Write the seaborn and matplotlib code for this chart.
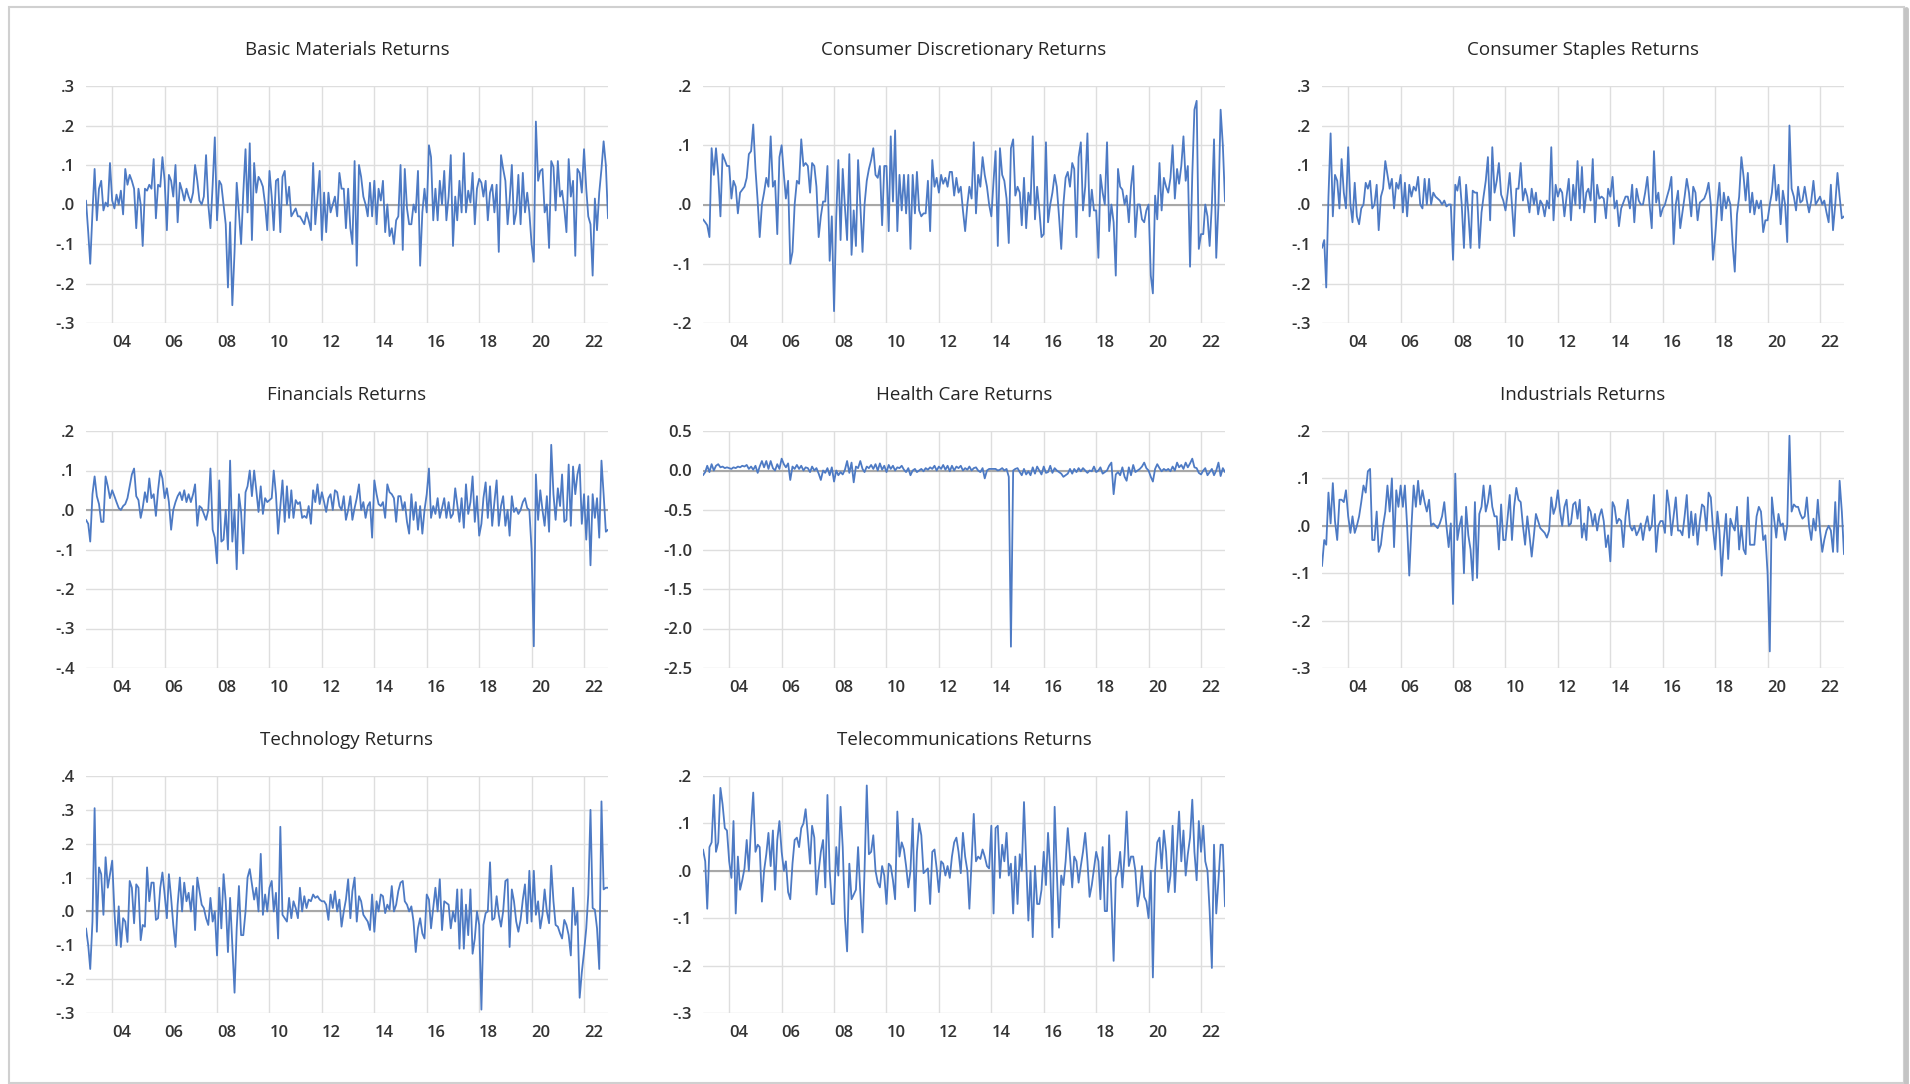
import matplotlib
matplotlib.use("Agg")
import matplotlib.pyplot as plt
import pandas as pd
import seaborn as sns
from matplotlib.lines import Line2D
from matplotlib.patches import Rectangle

sns.set_theme(style="white")
plt.rcParams["font.family"] = ["Open Sans", "DejaVu Sans"]

# monthly observations, Jan 2003 - Dec 2022 (one row per year)
dates = pd.date_range("2003-01-01", periods=240, freq="MS")

basic_materials = [
    0.01, -0.07, -0.15, -0.02, 0.09, -0.04, 0.04, 0.06, -0.015, 0.005, -0.005, 0.105,
    0.01, -0.01, 0.025, 0.0, 0.035, -0.025, 0.09, 0.05, 0.075, 0.06, 0.04, -0.06,
    0.04, 0.0, -0.105, 0.04, 0.035, 0.05, 0.04, 0.115, -0.035, 0.05, 0.045, 0.12,
    0.06, -0.065, 0.075, 0.06, 0.02, 0.1, -0.045, 0.055, 0.035, 0.01, 0.04, 0.02,
    0.005, 0.03, 0.1, 0.06, 0.01, 0.0, 0.02, 0.125, 0.0, -0.06, 0.05, 0.17,
    -0.04, 0.06, 0.05, 0.0, -0.05, -0.21, -0.045, -0.255, -0.12, 0.055, -0.02, -0.1,
    0.03, 0.14, -0.02, 0.155, -0.09, 0.105, 0.03, 0.07, 0.06, 0.045, 0.0, -0.065,
    0.085, 0.02, -0.065, 0.06, 0.065, -0.07, 0.07, 0.085, 0.0, 0.045, -0.03, -0.02,
    -0.01, -0.03, -0.03, -0.04, -0.05, -0.02, -0.04, -0.065, 0.105, -0.05, 0.02, 0.085,
    -0.09, 0.03, -0.07, 0.03, -0.02, 0.0, 0.02, -0.03, 0.08, 0.04, 0.04, -0.06,
    0.04, -0.06, -0.1, 0.11, -0.155, 0.1, 0.07, 0.02, 0.0, -0.03, 0.055, -0.03,
    0.06, -0.05, 0.04, 0.01, 0.06, -0.07, 0.0, -0.08, -0.06, -0.1, -0.04, -0.03,
    0.1, -0.115, 0.09, -0.01, -0.05, -0.05, 0.0, -0.02, 0.085, -0.155, -0.02, 0.04,
    -0.02, 0.15, 0.12, -0.04, 0.04, -0.04, 0.06, 0.0, 0.085, -0.04, 0.02, 0.125,
    -0.105, 0.02, -0.04, 0.06, -0.02, 0.13, -0.02, 0.035, 0.005, 0.08, -0.05, 0.04,
    0.065, 0.055, 0.02, 0.06, -0.04, 0.03, 0.05, -0.02, 0.05, -0.12, 0.125, 0.09,
    0.06, -0.05, 0.01, 0.1, -0.05, -0.02, 0.075, -0.05, 0.08, -0.02, 0.03, -0.02,
    -0.1, -0.145, 0.21, 0.06, 0.085, 0.09, -0.02, 0.0, -0.11, 0.11, 0.095, -0.015,
    0.11, 0.02, 0.035, -0.01, -0.07, 0.115, 0.02, 0.06, -0.13, 0.09, 0.08, 0.03,
    0.14, 0.04, -0.03, -0.05, -0.18, 0.015, -0.065, 0.03, 0.09, 0.16, 0.1, -0.035,
]

consumer_discretionary = [
    -0.025, -0.03, -0.035, -0.055, 0.095, 0.05, 0.095, 0.05, -0.02, 0.085, 0.075, 0.065,
    0.065, 0.01, 0.04, 0.03, -0.015, 0.02, 0.025, 0.03, 0.045, 0.085, 0.09, 0.135,
    0.06, 0.005, -0.055, 0.0, 0.02, 0.045, 0.03, 0.115, 0.03, 0.04, -0.05, 0.08,
    0.1, 0.05, 0.01, 0.04, -0.1, -0.08, 0.0, 0.04, 0.035, 0.11, 0.065, 0.07,
    0.065, 0.02, 0.07, 0.065, 0.03, -0.055, -0.02, 0.005, 0.005, 0.065, -0.095, -0.02,
    -0.18, -0.02, 0.075, -0.06, 0.06, -0.005, -0.06, 0.085, -0.085, -0.01, -0.07, 0.075,
    0.0, -0.08, 0.0, 0.04, 0.06, 0.075, 0.095, 0.05, 0.045, 0.065, -0.035, 0.065,
    0.065, -0.045, 0.115, 0.005, 0.125, -0.045, 0.05, -0.01, 0.05, -0.015, 0.05, -0.075,
    0.05, -0.015, 0.055, -0.01, -0.02, -0.015, -0.015, 0.04, -0.045, 0.075, 0.03, 0.045,
    0.02, 0.05, 0.035, 0.045, 0.03, 0.055, 0.055, 0.015, 0.045, 0.02, 0.03, -0.01,
    -0.045, 0.0, 0.03, 0.01, 0.105, -0.015, 0.05, 0.03, 0.08, 0.05, 0.03, 0.0,
    -0.02, 0.04, 0.09, -0.07, 0.095, 0.05, 0.04, 0.01, -0.065, 0.095, 0.11, 0.015,
    0.03, 0.02, -0.035, 0.045, -0.04, 0.02, 0.0, 0.115, -0.025, 0.03, -0.01, -0.055,
    -0.05, 0.105, -0.03, 0.0, 0.02, 0.05, 0.03, -0.02, -0.075, 0.0, 0.045, 0.055,
    0.03, 0.07, 0.06, -0.055, 0.08, 0.105, -0.01, 0.03, 0.12, -0.02, 0.025, -0.01,
    -0.01, -0.09, 0.05, 0.02, 0.0, 0.105, -0.045, 0.0, -0.03, -0.12, 0.06, 0.03,
    0.025, 0.0, 0.015, -0.03, 0.03, 0.065, -0.055, 0.0, 0.0, -0.025, -0.03, -0.01,
    0.0, -0.12, -0.15, 0.015, -0.025, 0.07, -0.01, 0.045, 0.03, 0.02, 0.045, 0.1,
    0.01, 0.06, 0.035, 0.065, 0.115, 0.04, 0.065, -0.105, 0.05, 0.16, 0.175, -0.075,
    -0.05, -0.05, 0.0, -0.02, -0.07, 0.0, 0.11, -0.09, 0.0, 0.16, 0.1, 0.005,
]

consumer_staples = [
    -0.11, -0.09, -0.21, 0.02, 0.18, -0.03, 0.075, 0.06, -0.01, 0.115, 0.03, -0.01,
    0.145, 0.0, -0.045, 0.055, -0.03, -0.05, -0.01, 0.0, 0.055, 0.04, 0.06, -0.01,
    0.0, 0.05, -0.065, 0.02, 0.04, 0.11, 0.075, 0.04, 0.065, -0.01, 0.055, 0.04,
    0.075, -0.02, 0.055, -0.03, 0.05, 0.02, 0.045, 0.035, 0.07, 0.0, -0.01, 0.065,
    0.0, 0.065, 0.0, 0.03, 0.02, 0.015, 0.01, 0.0, 0.01, -0.005, 0.0, 0.0,
    -0.14, 0.05, 0.035, 0.07, 0.0, -0.11, 0.05, -0.02, -0.11, 0.035, 0.03, 0.03,
    -0.11, -0.02, 0.02, 0.06, 0.12, -0.04, 0.145, 0.03, 0.06, 0.105, 0.025, 0.01,
    -0.015, 0.03, 0.08, 0.0, -0.08, 0.04, 0.04, 0.105, 0.01, 0.04, 0.02, -0.02,
    0.04, 0.0, 0.03, -0.025, 0.01, 0.0, -0.03, 0.01, -0.01, 0.145, -0.04, 0.05,
    0.02, 0.04, 0.03, -0.03, 0.02, 0.065, -0.04, 0.05, 0.0, 0.11, -0.01, 0.095,
    -0.02, 0.03, 0.04, 0.01, 0.115, -0.045, 0.05, 0.015, 0.02, 0.015, -0.035, 0.04,
    0.02, 0.07, -0.01, 0.01, -0.055, -0.01, 0.005, 0.02, 0.02, -0.01, 0.05, -0.045,
    0.04, 0.01, 0.0, 0.0, 0.03, 0.07, 0.0, -0.06, 0.135, 0.005, 0.03, -0.03,
    -0.01, 0.0, 0.02, 0.04, 0.07, -0.1, 0.0, 0.035, -0.06, -0.02, 0.02, 0.065,
    0.03, -0.03, 0.045, 0.03, -0.04, 0.005, 0.01, 0.015, 0.03, 0.055, 0.0, -0.14,
    -0.08, 0.0, 0.055, -0.04, 0.03, -0.01, 0.02, 0.0, -0.1, -0.17, -0.025, 0.02,
    0.12, 0.07, 0.01, 0.08, -0.02, 0.03, -0.025, 0.01, -0.01, 0.01, -0.07, -0.04,
    -0.04, 0.0, 0.03, 0.1, 0.01, 0.05, -0.05, 0.035, 0.0, -0.095, 0.2, 0.04,
    0.02, -0.015, 0.045, 0.005, 0.01, 0.045, 0.01, -0.02, 0.01, 0.06, 0.0, 0.01,
    0.02, 0.0, 0.01, -0.02, -0.045, 0.05, -0.065, 0.0, 0.08, 0.02, -0.035, -0.03,
]

financials = [
    -0.025, -0.035, -0.08, 0.04, 0.085, 0.035, 0.015, -0.03, -0.03, 0.085, 0.06, 0.03,
    0.05, 0.035, 0.02, 0.005, 0.0, 0.01, 0.015, 0.03, 0.06, 0.09, 0.105, 0.035,
    0.025, -0.02, 0.005, 0.045, 0.02, 0.08, 0.03, 0.04, -0.015, 0.05, 0.1, 0.08,
    0.03, 0.055, 0.02, -0.05, 0.0, 0.02, 0.035, 0.045, 0.025, 0.05, 0.02, 0.04,
    0.02, 0.04, 0.065, -0.04, 0.01, 0.005, -0.01, -0.025, 0.0, 0.105, -0.05, -0.07,
    -0.135, 0.075, -0.08, -0.075, 0.0, -0.1, 0.125, -0.08, 0.0, -0.15, 0.04, -0.005,
    -0.11, 0.045, 0.06, 0.1, 0.035, 0.1, 0.05, -0.005, 0.06, -0.01, 0.03, 0.02,
    0.025, 0.03, 0.1, 0.04, -0.06, 0.01, 0.075, -0.03, 0.06, -0.02, 0.05, -0.02,
    0.025, 0.015, 0.02, -0.02, -0.015, -0.02, 0.01, -0.035, 0.05, 0.02, 0.065, 0.015,
    0.045, 0.02, -0.005, 0.03, 0.04, 0.0, 0.05, 0.045, 0.01, 0.0, 0.035, -0.025,
    0.0, 0.035, -0.025, 0.005, 0.03, 0.065, 0.0, 0.02, -0.02, 0.01, 0.02, -0.07,
    0.075, 0.04, 0.015, 0.01, 0.02, -0.02, 0.065, 0.045, 0.04, 0.03, -0.03, 0.035,
    0.035, 0.0, 0.02, -0.03, -0.06, 0.04, -0.025, 0.02, -0.05, 0.01, -0.06, 0.0,
    0.04, 0.105, -0.02, 0.01, -0.01, 0.03, -0.02, 0.005, 0.03, -0.02, 0.02, -0.02,
    -0.01, 0.055, 0.015, -0.03, 0.03, -0.045, 0.065, -0.01, 0.02, 0.085, -0.03, 0.035,
    -0.065, -0.035, 0.03, 0.07, -0.02, 0.06, -0.04, 0.02, 0.075, -0.04, 0.01, 0.035,
    -0.04, 0.0, -0.065, 0.035, -0.005, 0.005, -0.01, 0.0, 0.02, 0.03, 0.005, 0.0,
    -0.1, -0.345, 0.09, -0.025, 0.05, 0.0, -0.04, 0.035, -0.055, 0.165, 0.04, -0.025,
    0.055, 0.01, 0.09, -0.03, -0.025, 0.115, -0.04, 0.11, 0.04, 0.09, 0.115, -0.035,
    0.04, -0.075, 0.035, -0.14, 0.04, -0.02, 0.03, -0.07, 0.125, 0.04, -0.055, -0.05,
]

health_care = [
    -0.06, -0.02, 0.06, -0.02, 0.08, 0.0, 0.06, 0.08, 0.04, 0.05, 0.03, 0.04,
    0.03, 0.02, 0.04, 0.03, 0.05, 0.04, 0.06, 0.05, 0.07, 0.02, 0.05, 0.01,
    0.06, -0.03, 0.05, 0.12, 0.04, 0.12, 0.02, 0.12, 0.03, 0.0, 0.08, 0.02,
    0.15, 0.08, 0.04, 0.09, -0.12, 0.05, 0.02, 0.07, 0.02, 0.06, 0.0, 0.04,
    0.03, -0.02, 0.05, 0.0, 0.03, -0.04, -0.12, 0.0, -0.03, 0.03, -0.06, 0.04,
    -0.14, 0.0, -0.06, -0.02, -0.05, 0.01, 0.12, -0.03, 0.1, -0.15, 0.05, 0.03,
    0.12, 0.02, -0.02, 0.05, 0.03, 0.07, 0.02, 0.08, 0.0, 0.09, 0.01, 0.06,
    -0.02, 0.07, 0.02, 0.06, 0.0, 0.04, 0.03, 0.06, 0.01, -0.02, 0.03, -0.06,
    0.0, 0.02, -0.02, 0.0, 0.02, -0.01, 0.03, 0.01, 0.04, 0.02, 0.06, 0.0,
    0.05, 0.02, 0.07, 0.01, 0.06, -0.01, 0.06, 0.0, 0.05, 0.03, 0.06, 0.0,
    0.03, 0.01, 0.05, 0.0, 0.03, 0.04, 0.0, -0.02, 0.03, -0.1, 0.0, 0.02,
    0.02, 0.02, 0.02, 0.0, 0.01, 0.03, 0.0, 0.02, -0.08, -2.23, 0.0, 0.02,
    0.03, -0.02, -0.06, 0.02, -0.05, -0.01, -0.06, 0.04, -0.04, 0.05, 0.0, -0.05,
    0.05, -0.03, -0.02, 0.06, -0.03, 0.03, 0.0, -0.02, -0.04, -0.08, -0.06, -0.04,
    0.02, -0.04, 0.02, -0.02, 0.03, -0.01, 0.03, 0.0, -0.03, 0.0, -0.01, 0.05,
    -0.02, 0.0, 0.04, -0.04, -0.02, 0.0, 0.06, 0.1, -0.3, -0.05, -0.02, -0.06,
    0.04, -0.08, -0.13, 0.04, -0.06, 0.07, -0.02, 0.0, 0.02, 0.05, 0.1, 0.03,
    0.0, -0.08, -0.14, 0.02, 0.08, 0.03, -0.01, 0.02, 0.0, 0.02, -0.01, 0.05,
    0.0, 0.1, 0.04, 0.07, 0.02, 0.1, 0.04, 0.09, 0.15, 0.04, 0.03, -0.03,
    -0.05, 0.0, 0.03, -0.06, -0.02, 0.02, -0.06, 0.0, 0.1, -0.07, 0.03, -0.02,
]

industrials = [
    -0.085, -0.03, -0.04, 0.07, 0.005, 0.09, 0.01, -0.03, 0.055, 0.055, 0.05, 0.075,
    0.02, -0.015, 0.02, -0.015, 0.0, 0.02, 0.05, 0.085, 0.07, 0.115, 0.12, -0.03,
    -0.03, 0.03, -0.055, -0.04, 0.0, 0.03, 0.085, 0.03, 0.1, -0.045, 0.075, 0.04,
    0.085, 0.04, 0.085, 0.0, -0.105, 0.0, 0.085, 0.04, 0.095, 0.045, 0.075, 0.05,
    0.03, 0.055, 0.0, 0.005, 0.0, -0.005, 0.005, 0.02, 0.05, 0.0, -0.045, 0.005,
    -0.165, 0.11, -0.03, 0.0, 0.02, -0.1, 0.04, -0.02, -0.05, -0.115, 0.05, -0.11,
    0.025, 0.04, 0.085, 0.03, 0.05, 0.085, 0.04, 0.02, 0.02, -0.05, 0.045, -0.03,
    -0.03, 0.02, 0.065, -0.03, 0.04, 0.08, 0.055, 0.05, 0.0, -0.04, 0.02, -0.02,
    -0.065, -0.02, 0.025, 0.01, -0.005, -0.01, -0.015, -0.025, -0.01, 0.06, 0.025, 0.04,
    0.075, 0.03, 0.0, 0.04, 0.055, 0.0, 0.005, 0.045, 0.05, 0.015, 0.055, -0.025,
    0.005, -0.03, 0.04, 0.03, 0.0, 0.025, -0.01, 0.02, 0.035, 0.01, -0.045, -0.02,
    -0.075, 0.05, 0.04, 0.005, 0.015, 0.01, -0.045, 0.02, 0.055, 0.0, -0.01, 0.0,
    -0.02, -0.01, 0.005, -0.03, 0.0, 0.02, -0.01, 0.0, 0.065, -0.055, 0.0, 0.01,
    0.01, -0.015, 0.075, 0.04, -0.02, 0.02, 0.06, -0.01, -0.01, -0.02, 0.02, 0.065,
    -0.025, 0.03, -0.02, 0.025, -0.04, 0.01, 0.045, 0.04, -0.01, 0.07, 0.06, -0.005,
    -0.05, 0.03, -0.01, -0.105, -0.03, 0.025, -0.07, 0.015, 0.0, -0.01, 0.04, -0.05,
    0.0, -0.05, -0.06, 0.06, -0.04, -0.04, -0.04, 0.02, 0.04, 0.03, -0.03, -0.02,
    -0.1, -0.265, 0.06, 0.015, -0.025, 0.025, 0.0, 0.005, -0.03, 0.0, 0.19, 0.03,
    0.045, 0.04, 0.04, 0.025, 0.015, 0.02, 0.06, 0.0, -0.03, 0.015, -0.01, 0.055,
    -0.01, -0.055, -0.03, -0.01, 0.0, -0.01, -0.055, 0.05, -0.055, 0.095, 0.03, -0.06,
]

technology = [
    -0.05, -0.1, -0.17, -0.03, 0.305, -0.06, 0.13, 0.11, -0.01, 0.16, 0.07, 0.11,
    0.15, 0.0, -0.1, 0.015, -0.105, -0.02, -0.03, -0.09, 0.09, 0.07, -0.035, 0.08,
    0.07, -0.085, -0.04, -0.045, 0.13, 0.03, 0.085, 0.085, -0.025, -0.02, 0.07, 0.115,
    0.05, -0.02, 0.11, 0.04, -0.04, -0.105, 0.02, 0.1, 0.0, 0.085, 0.03, 0.055,
    0.0, 0.075, -0.055, 0.1, 0.06, 0.02, 0.01, -0.02, -0.04, 0.04, -0.03, 0.0,
    -0.13, 0.07, -0.05, 0.11, 0.03, -0.12, 0.04, -0.1, -0.24, -0.05, 0.075, -0.07,
    -0.07, 0.0, 0.1, 0.125, 0.08, 0.035, 0.07, 0.0, 0.17, -0.01, 0.05, 0.0,
    0.07, 0.09, 0.0, 0.055, -0.08, 0.25, -0.01, -0.02, -0.03, 0.04, -0.02, 0.03,
    0.01, -0.02, 0.07, 0.0, 0.045, 0.01, 0.035, 0.03, 0.05, 0.04, 0.045, 0.035,
    0.03, 0.03, 0.02, -0.025, 0.05, 0.01, 0.06, 0.0, 0.035, -0.045, 0.0, 0.035,
    0.095, -0.02, 0.06, 0.1, -0.03, 0.045, 0.03, -0.01, -0.02, -0.03, -0.055, 0.05,
    -0.06, 0.03, 0.0, 0.05, 0.045, -0.005, 0.02, 0.005, 0.075, 0.0, 0.02, 0.06,
    0.085, 0.09, 0.03, 0.02, 0.0, 0.015, -0.03, -0.12, -0.05, -0.02, -0.065, -0.08,
    0.05, 0.035, -0.05, 0.01, 0.07, 0.0, 0.095, -0.055, 0.03, 0.025, 0.02, -0.05,
    0.0, -0.03, 0.065, -0.11, 0.065, -0.11, 0.02, -0.07, 0.065, -0.125, -0.08, 0.0,
    -0.04, -0.29, -0.04, -0.005, 0.0, 0.145, -0.025, -0.02, 0.045, -0.01, -0.045, 0.0,
    0.09, 0.095, -0.105, 0.065, 0.03, -0.03, -0.06, -0.025, 0.035, 0.08, -0.035, 0.12,
    -0.03, 0.12, -0.01, 0.03, -0.05, -0.01, 0.065, 0.0, -0.035, 0.135, 0.03, -0.04,
    -0.045, -0.065, -0.08, -0.025, -0.04, -0.07, -0.13, 0.07, -0.04, 0.0, -0.255, -0.18,
    -0.12, -0.05, 0.05, 0.3, 0.01, 0.005, -0.05, -0.17, 0.325, 0.065, 0.07, 0.07,
]

telecommunications = [
    0.045, 0.02, -0.08, 0.05, 0.06, 0.16, 0.04, 0.06, 0.175, 0.14, 0.09, 0.085,
    0.02, -0.015, 0.105, -0.09, 0.03, -0.04, -0.02, 0.005, 0.065, 0.0, 0.095, 0.165,
    0.04, 0.055, 0.05, -0.065, 0.0, 0.035, 0.08, 0.01, 0.085, -0.04, 0.065, 0.105,
    0.04, 0.0, 0.02, -0.045, -0.06, 0.015, 0.065, 0.07, 0.05, 0.09, 0.1, 0.13,
    0.075, 0.015, 0.095, 0.07, -0.05, 0.0, 0.04, 0.065, -0.035, 0.16, 0.0, -0.07,
    -0.07, 0.05, -0.01, 0.135, 0.05, -0.1, -0.17, 0.015, -0.06, -0.05, -0.04, 0.05,
    -0.045, -0.13, 0.0, 0.18, 0.035, 0.04, 0.075, 0.0, -0.025, -0.035, 0.01, -0.01,
    -0.07, 0.015, 0.01, -0.02, -0.06, 0.125, 0.03, 0.06, 0.045, 0.01, -0.035, 0.0,
    0.11, -0.085, 0.04, 0.1, 0.075, -0.005, 0.0, 0.005, -0.07, 0.04, 0.045, 0.005,
    -0.045, 0.02, 0.015, -0.01, 0.01, -0.015, 0.03, 0.06, 0.07, 0.04, -0.005, 0.08,
    0.03, 0.0, -0.08, 0.02, 0.12, 0.02, 0.03, 0.025, 0.045, 0.03, 0.01, 0.005,
    0.095, -0.09, 0.09, 0.095, -0.015, 0.055, 0.02, 0.08, -0.01, 0.015, -0.09, 0.03,
    -0.07, 0.035, 0.0, 0.145, 0.02, -0.105, 0.0, -0.14, 0.01, -0.07, -0.07, -0.04,
    0.04, -0.03, 0.08, 0.0, -0.14, 0.135, 0.0, -0.12, -0.01, -0.03, 0.02, 0.09,
    0.03, -0.035, 0.03, 0.02, -0.025, 0.01, 0.04, 0.08, 0.02, -0.055, -0.03, 0.005,
    0.04, 0.02, -0.06, 0.05, -0.085, -0.085, 0.075, -0.06, -0.19, -0.015, 0.0, 0.04,
    -0.035, 0.035, 0.125, 0.01, 0.03, 0.03, 0.0, -0.075, -0.045, 0.01, -0.055, -0.065,
    -0.1, 0.0, -0.225, 0.0, 0.06, 0.07, 0.005, 0.085, 0.04, -0.045, -0.01, 0.095,
    -0.045, 0.05, 0.125, 0.02, 0.085, -0.01, 0.035, 0.07, 0.15, 0.04, -0.02, 0.105,
    0.04, 0.095, 0.02, 0.0, -0.085, -0.205, 0.055, -0.09, -0.02, 0.055, 0.055, -0.075,
]

titles = [
    "Basic Materials Returns", "Consumer Discretionary Returns", "Consumer Staples Returns",
    "Financials Returns", "Health Care Returns", "Industrials Returns",
    "Technology Returns", "Telecommunications Returns",
]
series = [
    basic_materials, consumer_discretionary, consumer_staples,
    financials, health_care, industrials,
    technology, telecommunications,
]
y_limits = [(-0.3, 0.3), (-0.2, 0.2), (-0.3, 0.3),
            (-0.4, 0.2), (-2.5, 0.5), (-0.3, 0.2),
            (-0.3, 0.4), (-0.3, 0.2)]
y_steps = [0.1, 0.1, 0.1, 0.1, 0.5, 0.1, 0.1, 0.1]

year_ticks = pd.date_range("2004-01-01", "2022-01-01", freq="2YS")
year_labels = [f"{d.year % 100:02d}" for d in year_ticks]

LINE = "#4d7ac4"
GRID = "#dedede"
TEXT = "#333333"

W, H = 1910, 1084
fig = plt.figure(figsize=(W / 100, H / 100), dpi=100)

# outer frame of the chart object, with a soft shadow on the right
fig.patches.append(Rectangle((9 / W, 1 / H), 1895 / W, 1076 / H, transform=fig.transFigure,
                             fill=False, edgecolor="#d0d0d0", linewidth=1.5))
fig.lines.append(Line2D([1906 / W, 1906 / W], [1 / H, 1 - 9 / H], transform=fig.transFigure,
                        color="#c4c4c4", linewidth=3.5))

col_left = [86, 703, 1322]
row_top = [86, 431, 776]
ax_w, ax_h = 522, 237


def fmt_tick(v, step):
    s = f"{v:.1f}"
    if step >= 0.5:
        return s
    return s.replace("0.", ".")


for i, (title, vals) in enumerate(zip(titles, series)):
    r, c = divmod(i, 3)
    left, top = col_left[c], row_top[r]
    ax = fig.add_axes([left / W, 1 - (top + ax_h) / H, ax_w / W, ax_h / H])
    df = pd.DataFrame({"date": dates, "ret": vals})

    lo, hi = y_limits[i]
    step = y_steps[i]
    n = int(round((hi - lo) / step))
    yt = [round(lo + k * step, 2) for k in range(n + 1)]

    ax.axhline(0, color="#a8a8a8", linewidth=1.5, zorder=1.5)
    sns.lineplot(data=df, x="date", y="ret", ax=ax, color=LINE, linewidth=1.3, zorder=3)

    ax.set_xlim(dates[0], dates[-1])
    ax.set_ylim(lo, hi)
    ax.set_yticks(yt)
    ax.set_yticklabels([fmt_tick(v, step) for v in yt])
    ax.set_xticks(year_ticks)
    ax.set_xticklabels(year_labels, ha="left")
    ax.grid(True, color=GRID, linewidth=1.0, zorder=0)
    ax.set_axisbelow(True)
    for sp in ax.spines.values():
        sp.set_visible(False)
    ax.tick_params(axis="both", length=0, labelsize=12, colors=TEXT)
    ax.tick_params(axis="x", pad=8.5)
    ax.tick_params(axis="y", pad=8)
    for lab in ax.get_xticklabels() + ax.get_yticklabels():
        lab.set_fontweight("semibold")
    ax.set_xlabel("")
    ax.set_ylabel("")
    ax.text(0.5, 1 + 36 / ax_h, title, transform=ax.transAxes, ha="center", va="center",
            fontsize=13.5, color="#262626")

fig.savefig("out.png", dpi=100, facecolor="white")
